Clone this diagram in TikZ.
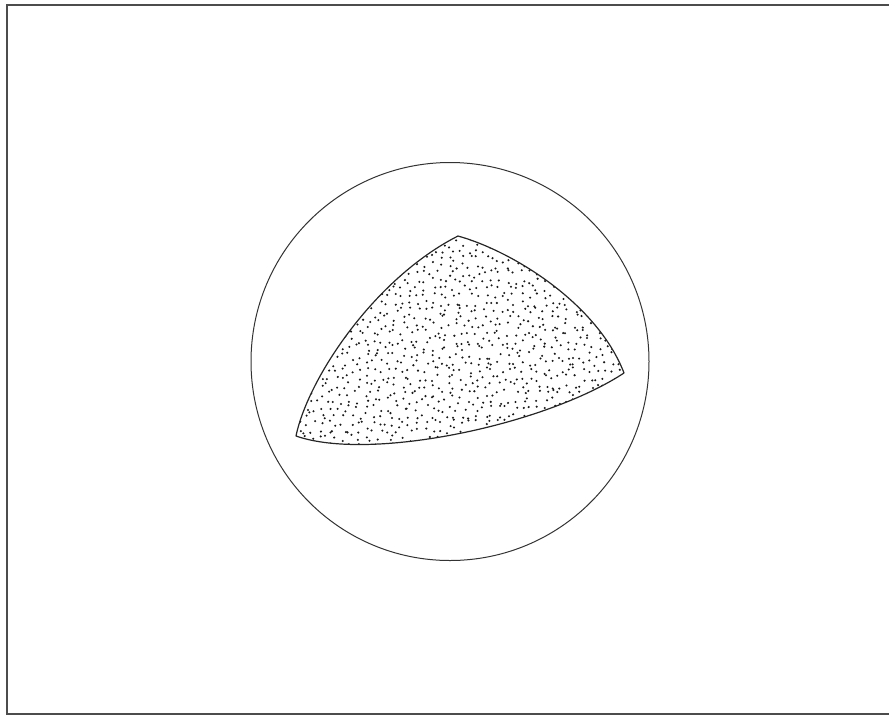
\documentclass[tikz,border=0pt]{standalone}
\usetikzlibrary{calc}
\tikzset{
  frame/.style ={draw=black!70,line width=1.3pt},
  rim/.style   ={draw=black!80,line width=1pt},
  patch/.style ={draw=black!85,line width=1.2pt,line join=round},
  speck/.style ={fill=black!90},
}
\begin{document}
\begin{tikzpicture}[x=1pt,y=-1pt]
\useasboundingbox (0,0) rectangle (889,716);
\draw[frame] (889,5) -- (7,5) -- (7,714) -- (889,714);

\draw[rim] (450,361.5) circle[radius=199];

% corners of the curved patch
\coordinate (vl) at (296,436);
\coordinate (vt) at (458,236);
\coordinate (vr) at (624,373);
\def\patchpath{(vl) .. controls (308,378) and (375,278) .. (vt)
  .. controls (515,252) and (598,305) .. (vr)
  .. controls (545,425) and (370,462) .. (vl) -- cycle}

% jittered stipple, kept inside the patch
\begin{scope}
  \clip \patchpath;
  \pgfmathsetseed{4711}
  \foreach \gx in {0,...,44}{
    \foreach \gy in {0,...,29}{
      \pgfmathsetmacro{\px}{294+7.5*\gx+7*rnd}
      \pgfmathsetmacro{\py}{232+7.5*\gy+7*rnd}
      \fill[speck] (\px,\py) circle[radius=1.15];
    }
  }
\end{scope}
\draw[patch] \patchpath;
\end{tikzpicture}
\end{document}
